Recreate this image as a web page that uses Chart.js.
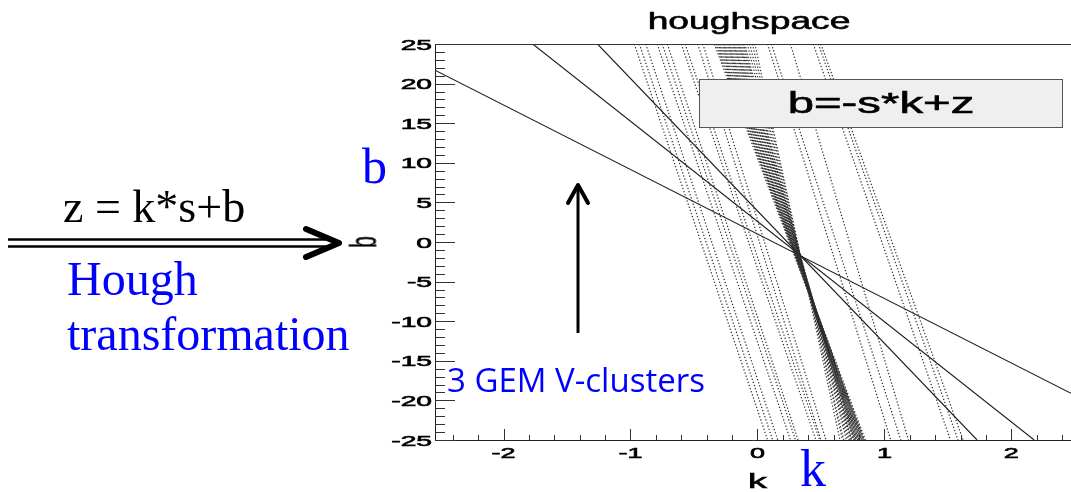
<!DOCTYPE html>
<html>
<head>
<meta charset="utf-8">
<script src="https://cdn.jsdelivr.net/npm/chart.js@4.4.1/dist/chart.umd.min.js"></script>
<style>
  html, body { margin: 0; padding: 0; background: #fff; }
  #wrap { position: relative; width: 1071px; height: 492px; overflow: hidden; }
  #houghChart { position: absolute; left: 0; top: 0; }
  #arrows { position: absolute; left: 0; top: 0; }
  .note { position: absolute; white-space: nowrap; line-height: 1; }
  .serif { font-family: "Liberation Serif", "DejaVu Serif", serif; }
  .blue { color: #0000ff; }
</style>
</head>
<body>
<div id="wrap">
  <canvas id="houghChart" width="1071" height="492"></canvas>
  <svg id="arrows" width="1071" height="492">
    <!-- double arrow on the left -->
    <line x1="8" y1="239.5" x2="334" y2="239.5" stroke="#000" stroke-width="2.5"/>
    <line x1="8" y1="246.5" x2="334" y2="246.5" stroke="#000" stroke-width="2.5"/>
    <polyline points="306,229 339,243 306,257" fill="none" stroke="#000" stroke-width="6" stroke-linecap="round" stroke-linejoin="round"/>
    <!-- arrow pointing at the three lines -->
    <line x1="578" y1="333" x2="578" y2="186" stroke="#000" stroke-width="3"/>
    <polyline points="568,203 578,185 588,203" fill="none" stroke="#000" stroke-width="4" stroke-linecap="round" stroke-linejoin="round"/>
  </svg>
  <div class="note serif" style="left:63px; top:184px; font-size:46px;">z = k*s+b</div>
  <div class="note serif blue" style="left:67px; top:255px; font-size:48px;">Hough</div>
  <div class="note serif blue" style="left:67px; top:310px; font-size:48px;">transformation</div>
  <div class="note serif blue" style="left:362px; top:141px; font-size:50px;">b</div>
  <div class="note serif blue" style="left:800px; top:443px; font-size:52px;">k</div>
  <div class="note blue" style="left:447px; top:363px; font-size:33px; font-family:'Open Sans', 'Noto Sans', sans-serif;">3 GEM V-clusters</div>
</div>
<script>
// axis ranges
const kRange = [-2.54, 2.47];
const bRange = [-25, 25];

// tick labels
const xTickValues = [-2, -1, 0, 1, 2];
const xTickLabels = ['-2', '-1', '0', '1', '2'];
const yTickValues = [25, 20, 15, 10, 5, 0, -5, -10, -15, -20, -25];
const yTickLabels = ['25', '20', '15', '10', '5', '0', '-5', '-10', '-15', '-20', '-25'];

// solid lines, the 3 GEM V-clusters (start and end point of each line)
const clusterStartK = [-2.54, -1.77, -1.26];
const clusterStartB = [21.7, 25, 25];
const clusterEndK = [2.47, 2.18, 1.73];
const clusterEndB = [-19.1, -25, -25];

// dotted lines, other hits: k where each line crosses b=25 (top) and b=-25 (bottom)
const hitTopK = [-0.97, -0.93, -0.88, -0.79, -0.75, -0.71, -0.60, -0.57, -0.47, -0.43,
                 -0.34, -0.33, -0.32, -0.31, -0.30, -0.29, -0.28, -0.27, -0.26, -0.25,
                 -0.24, -0.23, -0.22, -0.21, -0.20, -0.19, -0.18, -0.17, -0.16, -0.15,
                 -0.14, -0.13, -0.12, -0.11, -0.10, -0.08, -0.06, -0.04, -0.02,
                 0.08, 0.11, 0.26, 0.44, 0.48, 0.50];
const hitBottomK = [0.08, 0.12, 0.16, 0.26, 0.30, 0.32, 0.46, 0.49, 0.50, 0.54,
                    0.84, 0.85, 0.83, 0.84, 0.82, 0.83, 0.81, 0.82, 0.80, 0.81,
                    0.79, 0.80, 0.78, 0.79, 0.77, 0.78, 0.76, 0.77, 0.75, 0.76,
                    0.74, 0.73, 0.74, 0.72, 0.71, 0.70, 0.68, 0.67, 0.65,
                    1.05, 1.13, 1.19, 1.52, 1.58, 1.62];

const plotFont = '"Liberation Sans", Arial, Helvetica, sans-serif';

let datasets = [];
for (let i = 0; i < hitTopK.length; i++) {
    datasets.push({
        data: [{x: hitTopK[i], y: bRange[1]}, {x: hitBottomK[i], y: bRange[0]}],
        showLine: true,
        borderColor: '#2e2e2e',
        borderWidth: 1.2,
        borderDash: [1.3, 2],
        pointRadius: 0
    });
}
for (let i = 0; i < clusterStartK.length; i++) {
    datasets.push({
        data: [{x: clusterStartK[i], y: clusterStartB[i]}, {x: clusterEndK[i], y: clusterEndB[i]}],
        showLine: true,
        borderColor: '#1a1a1a',
        borderWidth: 1.1,
        pointRadius: 0
    });
}

// ROOT text in the picture is stretched sideways, so draw it scaled
function stretchText(ctx, text, x, y, sx, align) {
    ctx.save();
    ctx.translate(x, y);
    ctx.scale(sx, 1);
    ctx.textAlign = align;
    ctx.lineWidth = 0.6;
    ctx.strokeStyle = '#000';
    ctx.fillText(text, 0, 0);
    ctx.strokeText(text, 0, 0);
    ctx.restore();
}

const houghDecor = {
    id: 'houghDecor',
    afterDatasetsDraw(chart) {
        const ctx = chart.ctx;
        const area = chart.chartArea;
        const xs = chart.scales.x;
        const ys = chart.scales.y;
        ctx.save();

        // top frame line
        ctx.strokeStyle = '#333';
        ctx.lineWidth = 1;
        ctx.beginPath();
        ctx.moveTo(area.left, area.top + 0.5);
        ctx.lineTo(area.right, area.top + 0.5);
        ctx.stroke();

        // x tick marks, pointing into the plot
        for (let i = -12; i <= 12; i++) {
            const px = Math.round(xs.getPixelForValue(i / 5)) + 0.5;
            const len = (i % 5 === 0) ? 11 : 5;
            ctx.beginPath();
            ctx.moveTo(px, area.bottom);
            ctx.lineTo(px, area.bottom - len);
            ctx.stroke();
        }
        // y tick marks
        for (let v = bRange[0]; v <= bRange[1]; v++) {
            const py = Math.round(ys.getPixelForValue(v)) + 0.5;
            const len = (v % 5 === 0) ? 20 : 10;
            ctx.beginPath();
            ctx.moveTo(area.left, py);
            ctx.lineTo(area.left + len, py);
            ctx.stroke();
        }

        // formula box
        ctx.fillStyle = '#efefef';
        ctx.fillRect(699, 79, 363, 48);
        ctx.strokeStyle = '#555';
        ctx.strokeRect(699.5, 79.5, 363, 48);
        ctx.fillStyle = '#000';
        ctx.font = '29px ' + plotFont;
        ctx.textBaseline = 'alphabetic';
        stretchText(ctx, 'b=-s*k+z', 881, 113, 1.63, 'center');

        // tick labels
        ctx.font = '15px ' + plotFont;
        for (let i = 0; i < yTickValues.length; i++) {
            const py = ys.getPixelForValue(yTickValues[i]);
            stretchText(ctx, yTickLabels[i], 432, py + 5.5, 1.88, 'right');
        }
        for (let i = 0; i < xTickValues.length; i++) {
            const px = xs.getPixelForValue(xTickValues[i]);
            stretchText(ctx, xTickLabels[i], px, 458, 1.8, 'center');
        }

        // axis titles
        ctx.font = '21px ' + plotFont;
        stretchText(ctx, 'k', xs.getPixelForValue(0), 488, 1.8, 'center');
        ctx.save();
        ctx.translate(366, ys.getPixelForValue(0));
        ctx.scale(1.8, 1);
        ctx.rotate(-Math.PI / 2);
        ctx.textAlign = 'center';
        ctx.textBaseline = 'middle';
        ctx.lineWidth = 0.6;
        ctx.fillText('b', 0, 0);
        ctx.strokeText('b', 0, 0);
        ctx.restore();

        // title
        ctx.font = '24px ' + plotFont;
        ctx.textBaseline = 'alphabetic';
        stretchText(ctx, 'houghspace', 749, 29, 1.55, 'center');

        ctx.restore();
    }
};

new Chart(document.getElementById('houghChart'), {
    type: 'scatter',
    data: { datasets: datasets },
    options: {
        responsive: false,
        animation: false,
        layout: { padding: { top: 44, left: 0, right: 0, bottom: 0 } },
        plugins: {
            legend: { display: false },
            tooltip: { enabled: false },
            title: { display: false }
        },
        scales: {
            x: {
                type: 'linear',
                min: kRange[0],
                max: kRange[1],
                ticks: { display: false },
                grid: { display: false },
                border: { display: true, color: '#222', width: 1 },
                afterFit: function (scale) { scale.height = 52; }
            },
            y: {
                type: 'linear',
                min: bRange[0],
                max: bRange[1],
                ticks: { display: false },
                grid: { display: false },
                border: { display: true, color: '#222', width: 1 },
                afterFit: function (scale) { scale.width = 435; }
            }
        }
    },
    plugins: [houghDecor]
});
</script>
</body>
</html>
